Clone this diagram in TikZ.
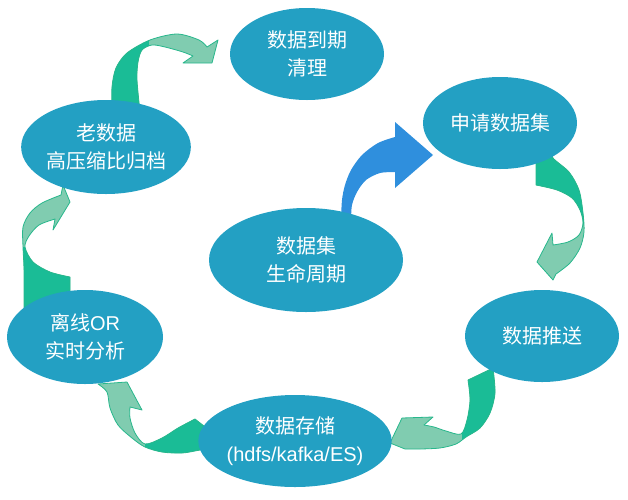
\documentclass[tikz,border=0pt]{standalone}
\usepackage{fontspec}
\setmainfont{Liberation Sans}
\newfontfamily\cjk{Noto Sans CJK SC}
\newfontfamily\latin{Liberation Sans}
\usetikzlibrary{shapes.geometric}
\definecolor{stagefill}{RGB}{35,160,195}
\definecolor{ribbondark}{RGB}{26,188,150}
\definecolor{ribbonlight}{RGB}{128,204,176}
\definecolor{ribbonedge}{RGB}{40,183,140}
\definecolor{startblue}{RGB}{47,143,221}
% #1 outline of the arrow, #2 region painted dark
\newcommand{\cyclearrow}[2]{%
  \fill[ribbonlight] #1;
  \begin{scope}
    \clip #1;
    \fill[ribbondark] #2;
  \end{scope}
  \draw[ribbonedge,line width=0.8pt,line join=round] #1;}
\begin{document}
\begin{tikzpicture}[
		x=1pt,y=-1pt,
		stage/.style={ellipse,fill=stagefill,text=white,align=center,inner sep=0pt,
			font=\cjk\fontsize{20}{28}\selectfont},
		small stage/.style={stage,minimum width=154pt,minimum height=92pt},
		big stage/.style={stage,minimum width=194pt,minimum height=104pt}
	]
	\useasboundingbox (0,0) rectangle (628,499);
	% arrows between the stages
	\cyclearrow{(112,112) -- plot[smooth] coordinates {(112,112) (112,87) (116,68) (127,53) (150,40) (177,34) (199,40) (207,47)}
		-- (218,40) -- (212,63) -- (183,63)
		-- plot[smooth] coordinates {(193,56) (183,52) (165,47) (152,45) (142,50) (138,62) (137,80) (140,112)} -- cycle}
		{(0,0) rectangle (149,130)}
	\cyclearrow{(24,315) -- plot[smooth] coordinates {(24,315) (24,270) (23,247) (23,227) (30,213) (42,203) (61,195)}
		-- (63,185) -- (70,202) -- (53,230)
		-- plot[smooth] coordinates {(55,219) (39,225) (29,236) (25,247) (33,262) (50,272) (70,277)} -- (70,300) -- cycle}
		{(0,247) rectangle (100,320)}
	\cyclearrow{(536,150) -- (536,185)
		-- plot[smooth] coordinates {(536,185) (557,190) (572,198) (580,210) (583,223) (579,235) (568,242) (553,245)}
		-- (552,233) -- (537,262) -- (553,280)
		-- plot[smooth] coordinates {(556,274) (570,263) (580,248) (584,232) (583,213) (579,190) (569,172) (553,158) (553,150)} -- cycle}
		{(500,140) rectangle (600,224)}
	\cyclearrow{(468,380) -- plot[smooth] coordinates {(468,380) (470,400) (467,420) (461,434) (446,431) (434,427) (424,425)}
		-- (433,417) -- (402,418) -- (390,443) -- (405,449)
		-- plot[smooth] coordinates {(420,449) (440,448) (456,444) (466,437) (480,428) (490,413) (495,393) (493,368)} -- cycle}
		{(462,360) rectangle (520,460)}
	\cyclearrow{(222,440) -- (195,419)
		-- plot[smooth] coordinates {(195,419) (178,428) (162,438) (145,444) (135,433) (130,418) (130,407)}
		-- (142,410) -- (127,382) -- (98,384)
		-- plot[smooth] coordinates {(98,384) (107,392) (110,408) (118,425) (132,438) (145,447) (162,452) (182,453) (200,450) (222,446)} -- cycle}
		{(145,400) rectangle (230,470)}
	% start arrow
	\fill[startblue] (341,220) -- plot[smooth] coordinates {(341,220) (342,200) (345,185) (351,170) (362,155) (378,143) (395,137)}
		-- (395,122) -- (433,155) -- (395,188)
		-- plot[smooth] coordinates {(395,172) (380,173) (366,180) (357,192) (352,205) (351,220)} -- cycle;
	% stages
	\node[big stage] (life) at (306,260) {数据集\\生命周期};
	\node[small stage] (apply) at (500,123) {申请数据集};
	\node[small stage] (push) at (542,336) {数据推送};
	\node[stage,minimum width=176pt,minimum height=92pt] (store) at (295,441) {数据存储\\{\latin(hdfs/kafka/ES)}};
	\node[small stage,minimum width=156pt,minimum height=94pt] (analyse) at (85,337) {离线{\latin OR}\\实时分析};
	\node[small stage,minimum height=94pt] (archive) at (106,147) {老数据\\高压缩比归档};
	\node[small stage] (clean) at (307,54) {数据到期\\清理};
\end{tikzpicture}
\end{document}
